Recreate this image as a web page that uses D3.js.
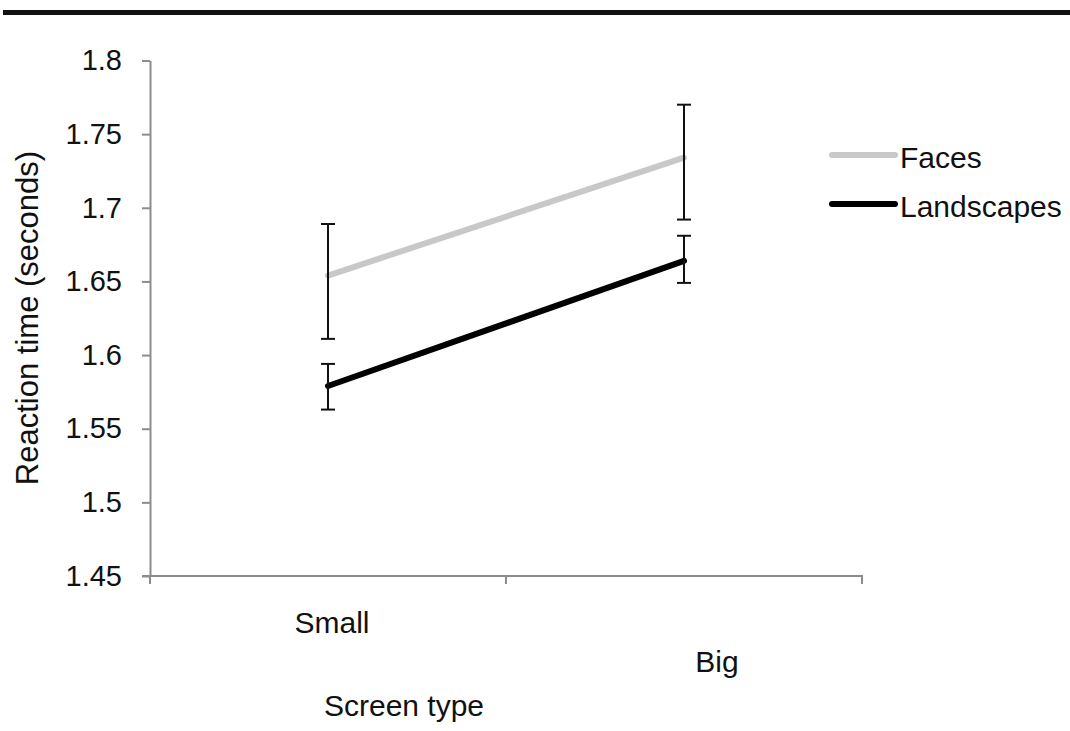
<!DOCTYPE html>
<html lang="en">
<head>
    <meta charset="utf-8">
    <title>Reaction time by screen type</title>
    <style>
        body {
            margin: 0;
            background: #fff;
        }

        svg {
            display: block;
            font-family: "Liberation Sans", Arial, sans-serif;
        }

        .axis path,
        .axis line {
            stroke: #8c8c8c;
            stroke-width: 2px;
        }

        .axis text {
            font-size: 29px;
            fill: #111;
        }
    </style>
</head>
<body>

<svg width="1070" height="731"></svg>

<script src="https://d3js.org/d3.v7.min.js"></script>
<script>

    // data
    const categories = ["Small", "Big"];
    const seriesNames = ["Faces", "Landscapes"];
    const facesMean = [1.654, 1.734];
    const facesLow = [1.611, 1.692];
    const facesHigh = [1.689, 1.770];
    const landscapesMean = [1.579, 1.664];
    const landscapesLow = [1.563, 1.649];
    const landscapesHigh = [1.594, 1.681];
    const yTicks = [1.45, 1.5, 1.55, 1.6, 1.65, 1.7, 1.75, 1.8];

    const colors = {Faces: "#c8c8c8", Landscapes: "#000"};
    const fontSize = 30;

    const series = [
        {name: "Faces", mean: facesMean, low: facesLow, high: facesHigh},
        {name: "Landscapes", mean: landscapesMean, low: landscapesLow, high: landscapesHigh}
    ];

    const svg = d3.select("svg");

    // heavy rule across the top
    svg.append("rect")
        .attr("x", 3)
        .attr("y", 10)
        .attr("width", 1067)
        .attr("height", 5)
        .attr("fill", "#111");

    const plot = {left: 150, right: 862, top: 60.5, bottom: 576};

    const x = d3.scaleBand()
        .domain(categories)
        .range([plot.left, plot.right])
        .padding(0);

    const y = d3.scaleLinear()
        .domain([1.45, 1.8])
        .range([plot.bottom, plot.top]);

    // y axis
    svg.append("g")
        .attr("class", "axis")
        .attr("transform", `translate(${plot.left},0)`)
        .call(d3.axisLeft(y)
            .tickValues(yTicks)
            .tickFormat(d3.format("~g"))
            .tickSize(8)
            .tickSizeOuter(0)
            .tickPadding(20));

    // x axis: ticks between categories, labels drawn separately
    const xAxis = svg.append("g")
        .attr("class", "axis")
        .attr("transform", `translate(0,${plot.bottom})`);
    xAxis.append("path")
        .attr("d", `M${plot.left - 8},0H${plot.right}V8`)
        .attr("fill", "none");
    xAxis.append("line")
        .attr("x1", plot.left).attr("x2", plot.left)
        .attr("y1", 0).attr("y2", 8);
    xAxis.append("line")
        .attr("x1", x("Big")).attr("x2", x("Big"))
        .attr("y1", 0).attr("y2", 8);

    // category labels (Excel staggers them)
    const labelOffset = {Small: {dx: 4, dy: 57}, Big: {dx: 33, dy: 96}};
    svg.selectAll(".cat")
        .data(categories)
        .enter()
        .append("text")
        .attr("class", "cat")
        .attr("x", d => x(d) + x.bandwidth() / 2 + labelOffset[d].dx)
        .attr("y", d => plot.bottom + labelOffset[d].dy)
        .attr("text-anchor", "middle")
        .attr("font-size", fontSize)
        .attr("fill", "#111")
        .text(d => d);

    // axis titles
    svg.append("text")
        .attr("x", 404)
        .attr("y", 716)
        .attr("text-anchor", "middle")
        .attr("font-size", fontSize)
        .attr("fill", "#111")
        .text("Screen type");

    svg.append("text")
        .attr("transform", "translate(38,318) rotate(-90)")
        .attr("text-anchor", "middle")
        .attr("font-size", 31)
        .attr("fill", "#111")
        .text("Reaction time (seconds)");

    const cx = d => x(d) + x.bandwidth() / 2;

    // lines
    const line = d3.line()
        .x((d, i) => cx(categories[i]))
        .y(d => y(d));

    svg.selectAll(".series")
        .data(series)
        .enter()
        .append("path")
        .attr("class", "series")
        .attr("d", d => line(d.mean))
        .attr("fill", "none")
        .attr("stroke", d => colors[d.name])
        .attr("stroke-width", 6)
        .attr("stroke-linecap", "round");

    // error bars
    const bars = [];
    series.forEach(s => categories.forEach((c, i) => {
        bars.push({cat: c, low: s.low[i], high: s.high[i]});
    }));

    const eb = svg.selectAll(".err")
        .data(bars)
        .enter()
        .append("g")
        .attr("class", "err")
        .attr("stroke", "#111")
        .attr("stroke-width", 2);
    eb.append("line")
        .attr("x1", d => cx(d.cat)).attr("x2", d => cx(d.cat))
        .attr("y1", d => y(d.low)).attr("y2", d => y(d.high));
    eb.append("line")
        .attr("x1", d => cx(d.cat) - 7).attr("x2", d => cx(d.cat) + 7)
        .attr("y1", d => y(d.high)).attr("y2", d => y(d.high));
    eb.append("line")
        .attr("x1", d => cx(d.cat) - 7).attr("x2", d => cx(d.cat) + 7)
        .attr("y1", d => y(d.low)).attr("y2", d => y(d.low));

    // legend
    const legend = svg.append("g")
        .attr("transform", "translate(832,155)");
    const item = legend.selectAll(".item")
        .data(seriesNames)
        .enter()
        .append("g")
        .attr("class", "item")
        .attr("transform", (d, i) => `translate(0,${i * 49})`);
    item.append("line")
        .attr("x1", 0).attr("x2", 63)
        .attr("stroke", d => colors[d])
        .attr("stroke-width", 6)
        .attr("stroke-linecap", "round");
    item.append("text")
        .attr("x", 68)
        .attr("y", 13)
        .attr("font-size", fontSize)
        .attr("fill", "#111")
        .text(d => d);

</script>

</body>
</html>
